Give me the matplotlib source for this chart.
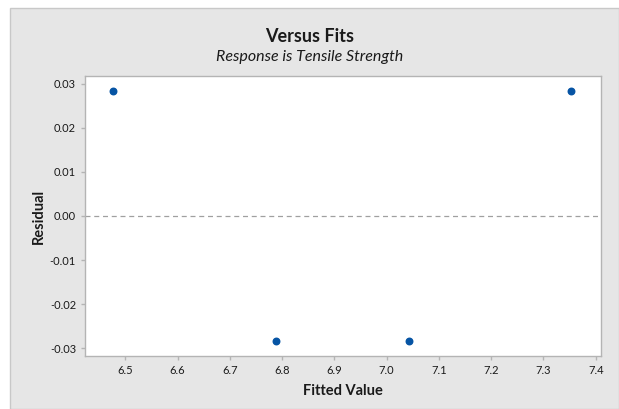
import numpy as np
import matplotlib
matplotlib.use("Agg")
import matplotlib.pyplot as plt
from matplotlib.patches import Rectangle

plt.rcParams['font.family'] = ['Lato', 'DejaVu Sans']

# fitted values and residuals
fitted = [6.477, 6.788, 7.042, 7.352]
resid = [0.0284, -0.0284, -0.0284, 0.0284]
xticks = [6.5, 6.6, 6.7, 6.8, 6.9, 7.0, 7.1, 7.2, 7.3, 7.4]
yticks = [-0.03, -0.02, -0.01, 0.00, 0.01, 0.02, 0.03]

W, H = 619, 409
fig = plt.figure(figsize=(W / 100, H / 100), dpi=100)
fig.patch.set_facecolor('white')
# grey panel behind the plot
fig.patches.append(Rectangle((10 / W, 0), 1 - 10 / W, 1 - 8 / H,
                             transform=fig.transFigure, facecolor='#e6e6e6',
                             edgecolor='#c8c8c8', linewidth=1.0, zorder=-5))

ax = fig.add_axes([85 / W, 1 - 356 / H, (601 - 85) / W, (356 - 76) / H])
ax.set_facecolor('white')
ax.scatter(fitted, resid, s=22, color='#0654a4', zorder=3)
ax.axhline(0, color='#a0a0a0', linestyle=(0, (4, 3)), linewidth=0.9, zorder=1)

ax.set_xlim(6.423, 7.41)
ax.set_ylim(-0.0318, 0.0318)
ax.set_xticks(xticks)
ax.set_xticklabels(['%.1f' % v for v in xticks])
ax.set_yticks(yticks)
ax.set_yticklabels(['%.2f' % v for v in yticks])
for s in ax.spines.values():
    s.set_color('#b4b4b4')
    s.set_linewidth(1.0)
ax.tick_params(colors='#b4b4b4', labelcolor='#1a1a1a', labelsize=8, length=3, width=1)

ax.set_xlabel('Fitted Value', fontsize=10.5, color='#1a1a1a', labelpad=6, fontweight='bold')
ax.set_ylabel('Residual', fontsize=10.5, color='#1a1a1a', labelpad=3, fontweight='bold')

fig.text(0.5, 1 - 37 / H, 'Versus Fits', ha='center', va='center',
         fontsize=13, fontweight='bold', color='#1a1a1a')
fig.text(0.5, 1 - 57 / H, 'Response is Tensile Strength', ha='center', va='center',
         fontsize=11.5, style='italic', color='#1a1a1a')

fig.savefig('out.png', dpi=100)
